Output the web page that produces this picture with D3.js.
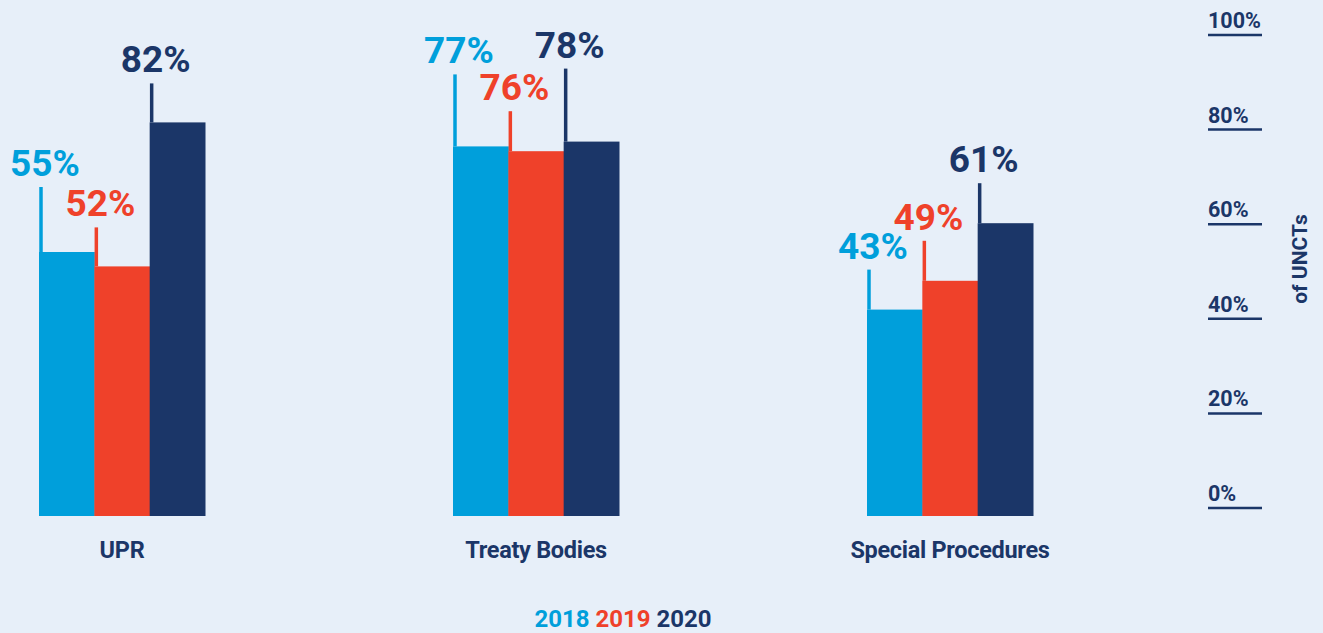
<!DOCTYPE html>
<html>
<head>
<meta charset="utf-8">
<script src="https://cdn.jsdelivr.net/npm/d3@7"></script>
<style>
html,body{margin:0;padding:0;background:#E7EFF9;}
svg{display:block;font-family:Roboto,"Noto Sans",sans-serif;}
</style>
</head>
<body>
<svg id="chart" width="1323" height="633"></svg>
<script>
// ---- data ----
const categories = ["UPR", "Treaty Bodies", "Special Procedures"];
const years = ["2018", "2019", "2020"];
const values2018 = [55, 77, 43];
const values2019 = [52, 76, 49];
const values2020 = [82, 78, 61];
const tickValues = [0, 20, 40, 60, 80, 100];
const axisTitle = "of UNCTs";

// ---- layout (not data) ----
const colors = ["#009FDB", "#EF412A", "#1B3668"];
const leaderLen = [[65, 39, 39], [72, 40, 73], [40, 40, 40]];
const bg = "#E7EFF9";

const series = [values2018, values2019, values2020];
const svg = d3.select("#chart");
svg.append("rect").attr("width", 1323).attr("height", 633).attr("fill", bg);

const y = d3.scaleLinear().domain([0, 100]).range([516, 36]);
const yAxisScale = d3.scaleLinear().domain([0, 100]).range([508, 35]);
const xGroup = d3.scalePoint().domain(categories).range([122, 950]);
const xInner = d3.scaleBand().domain(years).range([-83, 83]).padding(0);

const rows = [];
categories.forEach((c, ci) => {
  years.forEach((yr, si) => {
    rows.push({cat: c, ci, year: yr, si, value: series[si][ci]});
  });
});

const g = svg.append("g");
// bars
g.selectAll("rect.bar").data(rows).join("rect")
  .attr("class", "bar")
  .attr("x", d => xGroup(d.cat) + xInner(d.year))
  .attr("width", xInner.bandwidth() + 0.5)
  .attr("y", d => y(d.value))
  .attr("height", d => y(0) - y(d.value))
  .attr("fill", d => colors[d.si]);

// leader lines
g.selectAll("line.leader").data(rows).join("line")
  .attr("class", "leader")
  .attr("x1", d => xGroup(d.cat) + xInner(d.year) + 2)
  .attr("x2", d => xGroup(d.cat) + xInner(d.year) + 2)
  .attr("y1", d => y(d.value))
  .attr("y2", d => y(d.value) - leaderLen[d.ci][d.si])
  .attr("stroke", d => colors[d.si])
  .attr("stroke-width", 3.5);

// value labels
g.selectAll("text.val").data(rows).join("text")
  .attr("class", "val")
  .attr("x", d => xGroup(d.cat) + xInner(d.year) + 6)
  .attr("y", d => y(d.value) - leaderLen[d.ci][d.si] - 11)
  .attr("text-anchor", "middle")
  .attr("font-size", 37)
  .attr("font-weight", 700)
  .attr("fill", d => colors[d.si])
  .text(d => d.value + "%");

// category labels
g.selectAll("text.cat").data(categories).join("text")
  .attr("class", "cat")
  .attr("x", d => xGroup(d))
  .attr("y", 558)
  .attr("text-anchor", "middle")
  .attr("font-size", 23.5)
  .attr("font-weight", 700)
  .attr("letter-spacing", -0.3)
  .attr("fill", "#1B3668")
  .text(d => d);

// right axis
const axisG = svg.append("g").attr("transform", "translate(1208,0)");
const ticks = axisG.selectAll("g.tick").data(tickValues).join("g").attr("class", "tick")
  .attr("transform", d => `translate(0,${yAxisScale(d)})`);
ticks.append("line").attr("x1", 0).attr("x2", 54).attr("y1", 0).attr("y2", 0)
  .attr("stroke", "#1B3668").attr("stroke-width", 2.5);
ticks.append("text").attr("x", 0).attr("y", -7)
  .attr("font-size", 21.5).attr("font-weight", 700).attr("fill", "#1B3668")
  .text(d => d + "%");

svg.append("text")
  .attr("transform", "translate(1307,259) rotate(-90)")
  .attr("text-anchor", "middle")
  .attr("font-size", 21).attr("font-weight", 700).attr("fill", "#1B3668")
  .text(axisTitle);

// legend
const legend = svg.append("text").attr("x", 623).attr("y", 627)
  .attr("text-anchor", "middle").attr("font-size", 24).attr("font-weight", 700)
  .attr("letter-spacing", 0);
years.forEach((yr, i) => {
  legend.append("tspan").attr("fill", colors[i]).text((i ? " " : "") + yr);
});
</script>
</body>
</html>
